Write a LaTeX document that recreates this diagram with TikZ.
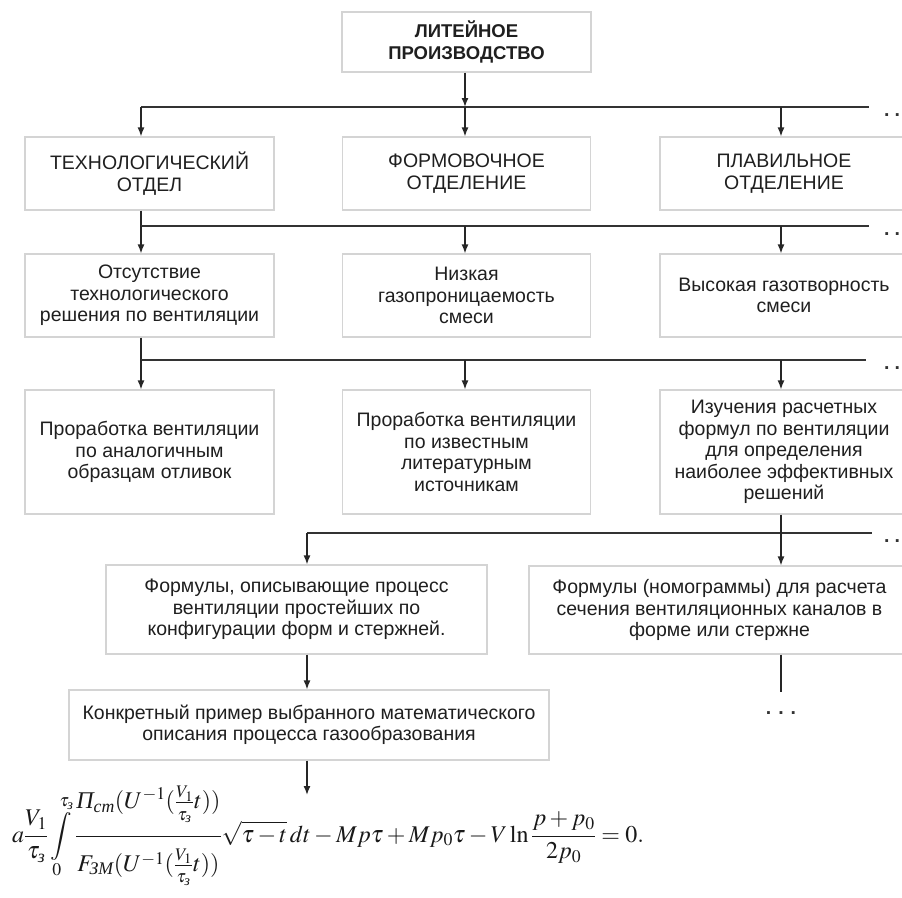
\documentclass[tikz,border=0pt]{standalone}
\usepackage{amsmath}
\usepackage{mathptmx}
\usepackage{fontspec}
\setmainfont{Liberation Sans}
\newfontfamily\tms{Liberation Serif}
\usetikzlibrary{arrows.meta}
\newcommand\cyi[1]{\text{\tms\itshape #1}}
\newcommand\tz{\tau_{\cyi{з}}}
\newcommand\ifr{\frac{V_1}{\rule{0pt}{16pt}\tz}}
\tikzset{
 box/.style={draw=black!17, line width=1.2pt, fill=white, rectangle, align=center, inner sep=0pt, text=black!88, font=\fontsize{19.5}{21.5}\selectfont},
 bus/.style={draw=black!80, line width=2.4pt},
 ln/.style={draw=black!85, line width=1.4pt},
 arr/.style={ln, -{Latex[length=9pt,width=7pt]}},
 dotsn/.style={inner sep=0pt, text=black!80, font=\fontsize{19.5}{21.5}\selectfont\bfseries},
}
\begin{document}
\begin{tikzpicture}[x=1pt,y=-1pt]
\useasboundingbox (0,0) rectangle (902,897);
% column coordinates
\coordinate (cA) at (141,0);
\coordinate (cB) at (465,0);
\coordinate (cC) at (781,0);
\coordinate (cD) at (307,0);
% boxes
\node[box, minimum width=249pt, minimum height=60pt, font=\fontsize{18.5}{21.5}\selectfont\bfseries] (top) at (466.5,42) {ЛИТЕЙНОЕ\\ПРОИЗВОДСТВО};
\node[box, minimum width=249pt, minimum height=73pt] (A2) at (149.5,173.5) {ТЕХНОЛОГИЧЕСКИЙ\\ОТДЕЛ};
\node[box, minimum width=248pt, minimum height=73pt] (B2) at (466.5,173.5) {ФОРМОВОЧНОЕ\\ОТДЕЛЕНИЕ};
\node[box, minimum width=248pt, minimum height=73pt] (C2) at (784,173.5) {ПЛАВИЛЬНОЕ\\ОТДЕЛЕНИЕ};
\node[box, minimum width=249pt, minimum height=83pt] (A3) at (149.5,295.5) {Отсутствие\\технологического\\решения по вентиляции};
\node[box, minimum width=248pt, minimum height=83pt] (B3) at (466.5,295.5) {Низкая\\газопроницаемость\\смеси};
\node[box, minimum width=248pt, minimum height=83pt] (C3) at (784,295.5) {Высокая газотворность\\смеси};
\node[box, minimum width=249pt, minimum height=124pt] (A4) at (149.5,452) {Проработка вентиляции\\по аналогичным\\образцам отливок};
\node[box, minimum width=248pt, minimum height=124pt] (B4) at (466.5,452) {Проработка вентиляции\\по известным\\литературным\\источникам};
\node[box, minimum width=248pt, minimum height=124pt] (C4) at (784,452) {Изучения расчетных\\формул по вентиляции\\для определения\\наиболее эффективных\\решений};
\node[box, minimum width=381pt, minimum height=89pt] (D5) at (296.5,609.5) {Формулы, описывающие процесс\\вентиляции простейших по\\конфигурации форм и стержней.};
\node[box, minimum width=381pt, minimum height=88pt] (F5) at (719.5,610) {Формулы (номограммы) для расчета\\сечения вентиляционных каналов в\\форме или стержне};
\node[box, minimum width=480pt, minimum height=70pt] (E6) at (309,725) {Конкретный пример выбранного математического\\описания процесса газообразования};
% bus coordinates
\coordinate (b1L) at (141,107); \coordinate (b1R) at (869,107);
\coordinate (b2L) at (141,226); \coordinate (b2R) at (869,226);
\coordinate (b3L) at (141,360); \coordinate (b3R) at (866,360);
\coordinate (b4L) at (307,533); \coordinate (b4R) at (872,533);
% level 1
\draw[arr] (top.south -| cB) -- (cB |- b1L);
\draw[bus] (b1L) -- (b1R);
\foreach \c/\n in {cA/A2, cB/B2, cC/C2} \draw[arr] (\c |- b1L) -- (\n.north -| \c);
% level 2
\draw[ln] (A2.south -| cA) -- (b2L);
\draw[bus] (b2L) -- (b2R);
\foreach \c/\n in {cA/A3, cB/B3, cC/C3} \draw[arr] (\c |- b2L) -- (\n.north -| \c);
% level 3
\draw[ln] (A3.south -| cA) -- (b3L);
\draw[bus] (b3L) -- (b3R);
\foreach \c/\n in {cA/A4, cB/B4, cC/C4} \draw[arr] (\c |- b3L) -- (\n.north -| \c);
% level 4
\draw[bus] (b4L) -- (b4R);
\draw[arr] (C4.south -| cC) -- (F5.north -| cC);
\draw[arr] (b4L) -- (D5.north -| cD);
\draw[arr] (D5.south -| cD) -- (E6.north -| cD);
\coordinate (fa) at (307,795);
\draw[arr] (E6.south -| cD) -- (fa);
\coordinate (fz) at (781,692);
\draw[ln] (F5.south -| cC) -- (fz);
% dots
\node[dotsn, anchor=base west] (d1) at (884,116) {.\hspace{5pt}.\hspace{5pt}.};
\node[dotsn, anchor=base west] (d2) at (884,235) {.\hspace{5pt}.\hspace{5pt}.};
\node[dotsn, anchor=base west] (d3) at (884,369) {.\hspace{5pt}.\hspace{5pt}.};
\node[dotsn, anchor=base west] (d4) at (884,542) {.\hspace{5pt}.\hspace{5pt}.};
\node[dotsn, anchor=base] (d5) at (781,714) {.\hspace{7pt}.\hspace{7pt}.};
% formula
\node[anchor=base west, inner sep=0pt, text=black!90, font=\fontsize{24}{28}\selectfont] (formula) at (12,842)
{$\displaystyle a\frac{V_1}{\tz}\int\limits_0^{\tz}\frac{\cyi{П}_{\cyi{ст}}(U^{-1}(\ifr t))\rule[-24pt]{0pt}{0pt}}{\rule{0pt}{32pt}F_{\cyi{ЗМ}}(U^{-1}(\ifr t))}\sqrt{\tau-t}\,dt-Mp\tau+Mp_0\tau-V\ln\frac{p+p_0}{2p_0}=0.$};
\end{tikzpicture}
\end{document}
